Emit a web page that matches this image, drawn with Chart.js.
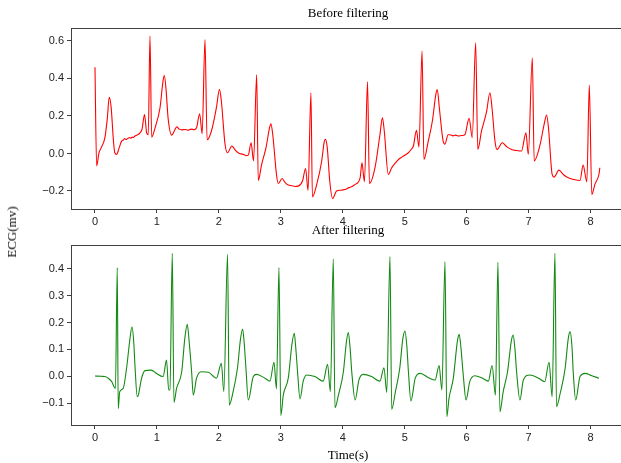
<!DOCTYPE html>
<html>
<head>
<meta charset="utf-8">
<script src="https://cdn.jsdelivr.net/npm/chart.js@4.4.1/dist/chart.umd.min.js"></script>
<style>
  html, body { margin: 0; padding: 0; background: #fff; overflow: hidden; width: 621px; height: 463px; }
  .box { position: absolute; left: 0; width: 640px; }
  #topBox { top: 0; height: 232px; }
  #bottomBox { top: 217px; height: 246px; }
  #ylab {
    position: absolute; left: 12px; top: 232px;
    transform: translate(-50%, -50%) rotate(-90deg);
    font: 13px "Liberation Serif", serif; color: #000; white-space: nowrap;
  }
</style>
</head>
<body>
<div class="box" id="topBox"><canvas id="beforeChart"></canvas></div>
<div class="box" id="bottomBox"><canvas id="afterChart"></canvas></div>
<div id="ylab">ECG(mv)</div>
<script>
// tick labels
const xTicks = [0, 1, 2, 3, 4, 5, 6, 7, 8];
const beforeYTicks = [-0.2, 0.0, 0.2, 0.4, 0.6];
const afterYTicks = [-0.1, 0.0, 0.1, 0.2, 0.3, 0.4];

// raw ECG: [time (s), mv]
const beforeSignal = [
  [0.00, 0.46], [0.027, -0.067], [0.065, 0.004], [0.10, 0.03], [0.16, 0.084], [0.20, 0.19],
  [0.23, 0.30], [0.26, 0.25], [0.30, 0.06], [0.32, 0.004], [0.35, -0.005], [0.39, 0.03],
  [0.43, 0.066], [0.46, 0.072], [0.48, 0.08], [0.50, 0.074], [0.52, 0.078], [0.54, 0.082],
  [0.56, 0.085], [0.58, 0.081], [0.60, 0.088], [0.62, 0.086], [0.646, 0.093], [0.67, 0.097],
  [0.69, 0.10], [0.71, 0.104], [0.726, 0.11], [0.76, 0.13], [0.80, 0.208], [0.834, 0.11],
  [0.86, 0.10], [0.888, 0.626], [0.915, 0.087], [0.97, 0.137], [1.05, 0.244], [1.10, 0.39],
  [1.12, 0.416], [1.15, 0.33], [1.18, 0.19], [1.24, 0.098], [1.28, 0.12], [1.32, 0.142],
  [1.36, 0.13], [1.40, 0.126], [1.45, 0.128], [1.50, 0.124], [1.55, 0.13], [1.60, 0.127],
  [1.64, 0.137], [1.69, 0.212], [1.73, 0.105], [1.776, 0.608], [1.81, 0.073], [1.88, 0.12],
  [1.96, 0.244], [2.01, 0.342], [2.04, 0.28], [2.10, 0.048], [2.14, 0.004], [2.21, 0.04],
  [2.26, 0.02], [2.31, 0.004], [2.36, -0.002], [2.40, -0.005], [2.44, -0.012], [2.475, -0.009],
  [2.52, 0.057], [2.56, -0.04], [2.61, 0.42], [2.636, -0.144], [2.69, -0.059], [2.76, 0.03],
  [2.82, 0.14], [2.84, 0.158], [2.87, 0.10], [2.93, -0.112], [2.96, -0.16], [3.02, -0.133],
  [3.07, -0.155], [3.12, -0.168], [3.18, -0.172], [3.23, -0.176], [3.28, -0.174], [3.35, -0.147],
  [3.40, -0.08], [3.44, -0.197], [3.486, 0.324], [3.51, -0.232], [3.58, -0.165], [3.66, -0.04],
  [3.70, 0.06], [3.72, 0.075], [3.75, 0.03], [3.79, -0.147], [3.835, -0.24], [3.90, -0.2],
  [3.96, -0.196], [4.035, -0.192], [4.10, -0.182], [4.15, -0.176], [4.20, -0.165], [4.28, -0.13],
  [4.31, -0.05], [4.35, -0.151], [4.40, 0.382], [4.43, -0.16], [4.52, -0.076], [4.60, 0.10],
  [4.64, 0.19], [4.67, 0.12], [4.735, -0.112], [4.79, -0.076], [4.85, -0.05], [4.90, -0.032],
  [4.96, -0.018], [5.02, -0.005], [5.06, 0.004], [5.10, 0.02], [5.14, 0.04], [5.19, 0.123],
  [5.23, 0.034], [5.28, 0.546], [5.31, -0.032], [5.38, 0.066], [5.45, 0.18], [5.50, 0.31],
  [5.525, 0.341], [5.56, 0.24], [5.62, 0.066], [5.65, 0.05], [5.70, 0.10], [5.73, 0.10],
  [5.78, 0.094], [5.82, 0.098], [5.865, 0.093], [5.92, 0.096], [5.97, 0.10], [6.04, 0.187],
  [6.09, 0.084], [6.145, 0.59], [6.18, 0.021], [6.24, 0.12], [6.32, 0.22], [6.376, 0.324],
  [6.41, 0.24], [6.457, 0.066], [6.49, 0.021], [6.575, 0.057], [6.65, 0.035], [6.725, 0.021],
  [6.80, 0.016], [6.885, 0.013], [6.957, 0.11], [6.995, -0.005], [7.06, 0.51], [7.09, -0.04],
  [7.18, 0.04], [7.26, 0.17], [7.29, 0.205], [7.32, 0.14], [7.38, -0.112], [7.41, -0.126],
  [7.49, -0.089], [7.56, -0.112], [7.64, -0.13], [7.72, -0.138], [7.83, -0.144], [7.88, -0.062],
  [7.94, -0.151], [7.98, 0.365], [8.02, -0.219], [8.07, -0.165], [8.135, -0.112], [8.15, -0.076]
];

// filtered ECG: [time (s), mv]
const afterSignal = [
  [0.00, 0.001], [0.10, 0.0], [0.16, -0.001], [0.22, -0.008], [0.27, -0.02], [0.33, -0.045],
  [0.36, 0.404], [0.375, -0.12], [0.40, -0.057], [0.455, -0.045], [0.51, 0.03], [0.56, 0.13],
  [0.597, 0.184], [0.625, 0.13], [0.645, 0.042], [0.683, -0.076], [0.70, -0.07], [0.753, -0.007],
  [0.807, 0.021], [0.91, 0.023], [0.99, 0.011], [1.10, -0.001], [1.155, 0.06], [1.19, -0.051],
  [1.21, -0.05], [1.248, 0.457], [1.275, -0.097], [1.317, -0.045], [1.40, 0.017], [1.45, 0.14],
  [1.49, 0.193], [1.52, 0.13], [1.56, 0.017], [1.587, -0.07], [1.64, -0.007], [1.71, 0.017],
  [1.83, 0.015], [1.96, -0.007], [2.04, 0.048], [2.08, -0.057], [2.14, 0.453], [2.167, -0.107],
  [2.23, -0.057], [2.30, 0.03], [2.35, 0.14], [2.384, 0.176], [2.41, 0.12], [2.437, 0.03],
  [2.475, -0.088], [2.556, -0.001], [2.61, 0.007], [2.744, -0.007], [2.825, -0.018], [2.89, 0.052],
  [2.93, -0.047], [2.97, 0.404], [3.0, -0.146], [3.04, -0.07], [3.12, -0.007], [3.18, 0.12],
  [3.217, 0.16], [3.24, 0.11], [3.27, 0.017], [3.31, -0.084], [3.36, -0.02], [3.415, 0.005],
  [3.55, -0.001], [3.685, -0.018], [3.755, 0.045], [3.80, -0.057], [3.847, 0.436], [3.874, -0.117],
  [3.93, -0.07], [4.01, 0.017], [4.06, 0.13], [4.09, 0.163], [4.12, 0.1], [4.145, 0.017],
  [4.2, -0.088], [4.26, -0.014], [4.33, 0.007], [4.465, -0.001], [4.6, -0.018], [4.665, 0.032],
  [4.71, -0.06], [4.762, 0.445], [4.79, -0.123], [4.85, -0.057], [4.92, 0.03], [4.97, 0.14],
  [5.005, 0.168], [5.035, 0.11], [5.06, 0.017], [5.1, -0.092], [5.17, -0.007], [5.25, 0.011],
  [5.385, -0.005], [5.49, -0.014], [5.555, 0.04], [5.6, -0.051], [5.65, 0.426], [5.68, -0.15],
  [5.715, -0.082], [5.785, -0.007], [5.85, 0.13], [5.88, 0.156], [5.91, 0.1], [5.945, 0.005],
  [5.99, -0.088], [6.05, -0.02], [6.13, 0.002], [6.24, -0.005], [6.35, -0.018], [6.41, 0.04],
  [6.465, -0.07], [6.505, 0.424], [6.537, -0.132], [6.59, -0.057], [6.66, 0.017], [6.72, 0.13],
  [6.75, 0.153], [6.78, 0.1], [6.806, 0.017], [6.86, -0.088], [6.915, -0.014], [7.02, 0.005],
  [7.16, -0.007], [7.26, -0.02], [7.33, 0.052], [7.38, -0.076], [7.425, 0.457], [7.45, -0.113],
  [7.51, -0.063], [7.59, 0.03], [7.64, 0.14], [7.67, 0.166], [7.70, 0.11], [7.72, 0.017],
  [7.76, -0.088], [7.83, -0.001], [7.91, 0.011], [8.02, 0.002], [8.136, -0.007]
];

// 축 박스 (위쪽/오른쪽 테두리 포함)
const frame = {
  id: 'frame',
  afterDraw(chart) {
    const { ctx, chartArea: a } = chart;
    ctx.save();
    ctx.strokeStyle = '#404040';
    ctx.lineWidth = 1;
    ctx.strokeRect(Math.round(a.left) + 0.5, Math.round(a.top) + 0.5,
      Math.round(a.right - a.left), Math.round(a.bottom - a.top));
    ctx.restore();
  }
};

function fmt(v) {
  return (v < 0 ? '\u2212' : '') + Math.abs(v).toFixed(1);
}

function makeChart(id, title, signal, color, yMin, yMax, yTicks, xHeight, xTitle) {
  return new Chart(document.getElementById(id), {
    type: 'scatter',
    data: {
      datasets: [{
        data: signal.map(p => ({ x: p[0], y: p[1] })),
        showLine: true,
        borderColor: color,
        borderWidth: 1.1,
        pointRadius: 0,
        cubicInterpolationMode: 'monotone'
      }]
    },
    options: {
      responsive: true,
      maintainAspectRatio: false,
      animation: false,
      layout: { padding: { left: 0, right: 15, top: 0, bottom: 0 } },
      plugins: {
        legend: { display: false },
        tooltip: { enabled: false },
        title: {
          display: true,
          text: title,
          fullSize: false,
          color: '#000',
          font: { family: 'Liberation Serif', size: 13, weight: 'normal' },
          padding: { top: 6, bottom: 6.4 }
        }
      },
      scales: {
        x: {
          type: 'linear',
          min: -0.387,
          max: 8.556,
          afterBuildTicks: s => { s.ticks = xTicks.map(v => ({ value: v })); },
          afterFit: s => { s.height = xHeight; },
          grid: { drawOnChartArea: false, drawTicks: true, tickLength: 4, color: '#404040' },
          border: { display: false },
          ticks: {
            color: '#222', padding: 2, maxRotation: 0,
            font: { family: 'Liberation Sans', size: 11 },
            callback: v => String(v)
          },
          title: {
            display: !!xTitle,
            text: xTitle || '',
            color: '#000',
            font: { family: 'Liberation Serif', size: 13 },
            padding: { top: 0, bottom: 0 }
          }
        },
        y: {
          min: yMin,
          max: yMax,
          afterBuildTicks: s => { s.ticks = yTicks.map(v => ({ value: v })); },
          afterFit: s => { s.width = 71; },
          grid: { drawOnChartArea: false, drawTicks: true, tickLength: 4, color: '#404040' },
          border: { display: false },
          ticks: {
            color: '#222', padding: 3,
            font: { family: 'Liberation Sans', size: 11 },
            callback: v => fmt(v)
          }
        }
      }
    },
    plugins: [frame]
  });
}

makeChart('beforeChart', 'Before filtering', beforeSignal, '#ff0000', -0.296, 0.669, beforeYTicks, 23, null);
makeChart('afterChart', 'After filtering', afterSignal, '#138a13', -0.181, 0.488, afterYTicks, 38, 'Time(s)');
</script>
</body>
</html>
